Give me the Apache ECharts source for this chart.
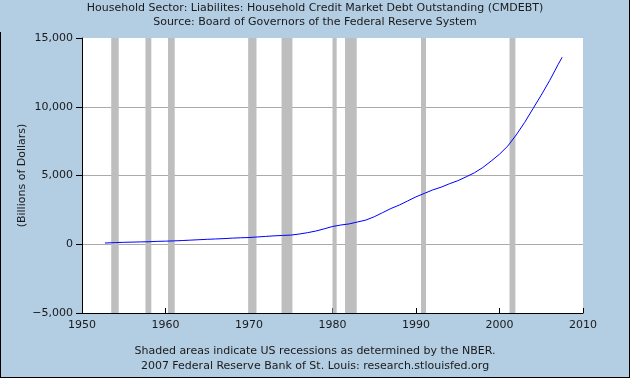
<!DOCTYPE html>
<html>
<head>
<meta charset="utf-8">
<script src="https://cdn.jsdelivr.net/npm/echarts@6/dist/echarts.min.js"></script>
<style>
html,body{margin:0;padding:0;background:#b3cde3;}
#c{width:630px;height:378px;}
</style>
</head>
<body>
<div id="c"></div>
<script>
// Data
const years = [1952.75,1954,1955,1956,1957,1958,1959,1960,1961,1962,1963,1964,1965,1966,1967,1968,1969,1970,1971,1972,1973,1974,1975,1976,1977,1978,1979,1980,1981,1982,1983,1984,1985,1986,1987,1988,1989,1990,1991,1992,1993,1994,1995,1996,1997,1998,1999,2000,2001,2002,2003,2004,2005,2006,2007,2007.5];
const debt = [90,120,140,155,170,185,210,225,245,270,300,330,360,385,410,445,470,490,530,570,610,640,665,740,840,960,1120,1290,1400,1480,1620,1760,2000,2300,2600,2850,3150,3450,3700,3950,4150,4400,4620,4900,5200,5580,6050,6550,7150,7950,8850,9850,10850,11900,13050,13600];
const recessionStart = [1953.5,1957.6,1960.3,1969.9,1973.9,1980.0,1981.5,1990.6,2001.2];
const recessionEnd   = [1954.4,1958.3,1961.1,1970.9,1975.2,1980.5,1982.9,1991.2,2001.9];
const xTicks = [1950,1960,1970,1980,1990,2000,2010];
const yTicks = [-5000,0,5000,10000,15000];
const titleLines = ['Household Sector: Liabilites: Household Credit Market Debt Outstanding (CMDEBT)','Source: Board of Governors of the Federal Reserve System'];
const footLines = ['Shaded areas indicate US recessions as determined by the NBER.','2007 Federal Reserve Bank of St. Louis: research.stlouisfed.org'];

const chart = echarts.init(document.getElementById('c'), null, {renderer:'canvas'});
const font = 'DejaVu Sans';
const txt = '#1a1a1a';
function fmt(v){
  const s = Math.abs(v).toString().replace(/\B(?=(\d{3})+(?!\d))/g, ',');
  return (v < 0 ? '\u2212' : '') + s;
}
const option = {
  backgroundColor: '#b3cde3',
  animation: false,
  textStyle: {fontFamily: font},
  grid: {left: 82, right: 47, top: 38, bottom: 65, show: true, backgroundColor: '#ffffff', borderWidth: 0, outerBoundsMode: 'none'},
  xAxis: {
    type: 'value', min: xTicks[0], max: xTicks[xTicks.length-1], interval: 10,
    axisLine: {show: true, onZero: false, lineStyle: {color: '#000', width: 1}},
    axisTick: {show: true, inside: true, length: 5, lineStyle: {color: '#000'}},
    axisLabel: {color: txt, fontSize: 11, fontFamily: font, margin: 7, formatter: v => String(v)},
    splitLine: {show: false}
  },
  yAxis: {
    type: 'value', min: yTicks[0], max: yTicks[yTicks.length-1], interval: 5000,
    name: '(Billions of Dollars)', nameLocation: 'middle', nameGap: 54, nameMoveOverlap: false,
    nameTextStyle: {color: txt, fontSize: 11, fontFamily: font},
    axisLine: {show: true, lineStyle: {color: '#000', width: 1}},
    axisTick: {show: true, inside: false, length: 6, lineStyle: {color: '#000'}},
    axisLabel: {color: txt, fontSize: 11, fontFamily: font, margin: 9, formatter: fmt},
    splitLine: {show: true, lineStyle: {color: ['rgba(0,0,0,0)','#aaaaaa','#aaaaaa','#aaaaaa','rgba(0,0,0,0)'], width: 1}}
  },
  graphic: [
    {type: 'text', left: 'center', top: 3, style: {text: titleLines[0], font: '11px "DejaVu Sans"', fill: txt}},
    {type: 'text', left: 'center', top: 17, style: {text: titleLines[1], font: '11px "DejaVu Sans"', fill: txt}},
    {type: 'text', left: 'center', top: 346, style: {text: footLines[0], font: '11px "DejaVu Sans"', fill: txt}},
    {type: 'text', left: 'center', top: 361, style: {text: footLines[1], font: '11px "DejaVu Sans"', fill: txt}},
    {type: 'line', shape: {x1: 629.5, y1: 0, x2: 629.5, y2: 378}, style: {stroke: '#000', lineWidth: 1}},
    {type: 'line', shape: {x1: 0, y1: 377.5, x2: 630, y2: 377.5}, style: {stroke: '#000', lineWidth: 1}},
    {type: 'line', shape: {x1: 0.5, y1: 32, x2: 0.5, y2: 378}, style: {stroke: '#000', lineWidth: 1}}
  ],
  series: [
    {
      type: 'line', z: 1, data: [], silent: true,
      markArea: {
        silent: true,
        itemStyle: {color: '#bebebe', opacity: 1},
        data: recessionStart.map((s, i) => [{xAxis: s}, {xAxis: recessionEnd[i]}])
      }
    },
    {
      type: 'line', z: 3, showSymbol: false, symbol: 'none',
      lineStyle: {color: '#0000ff', width: 1},
      data: years.map((y, i) => [y, debt[i]])
    }
  ]
};
chart.setOption(option);
</script>
</body>
</html>
